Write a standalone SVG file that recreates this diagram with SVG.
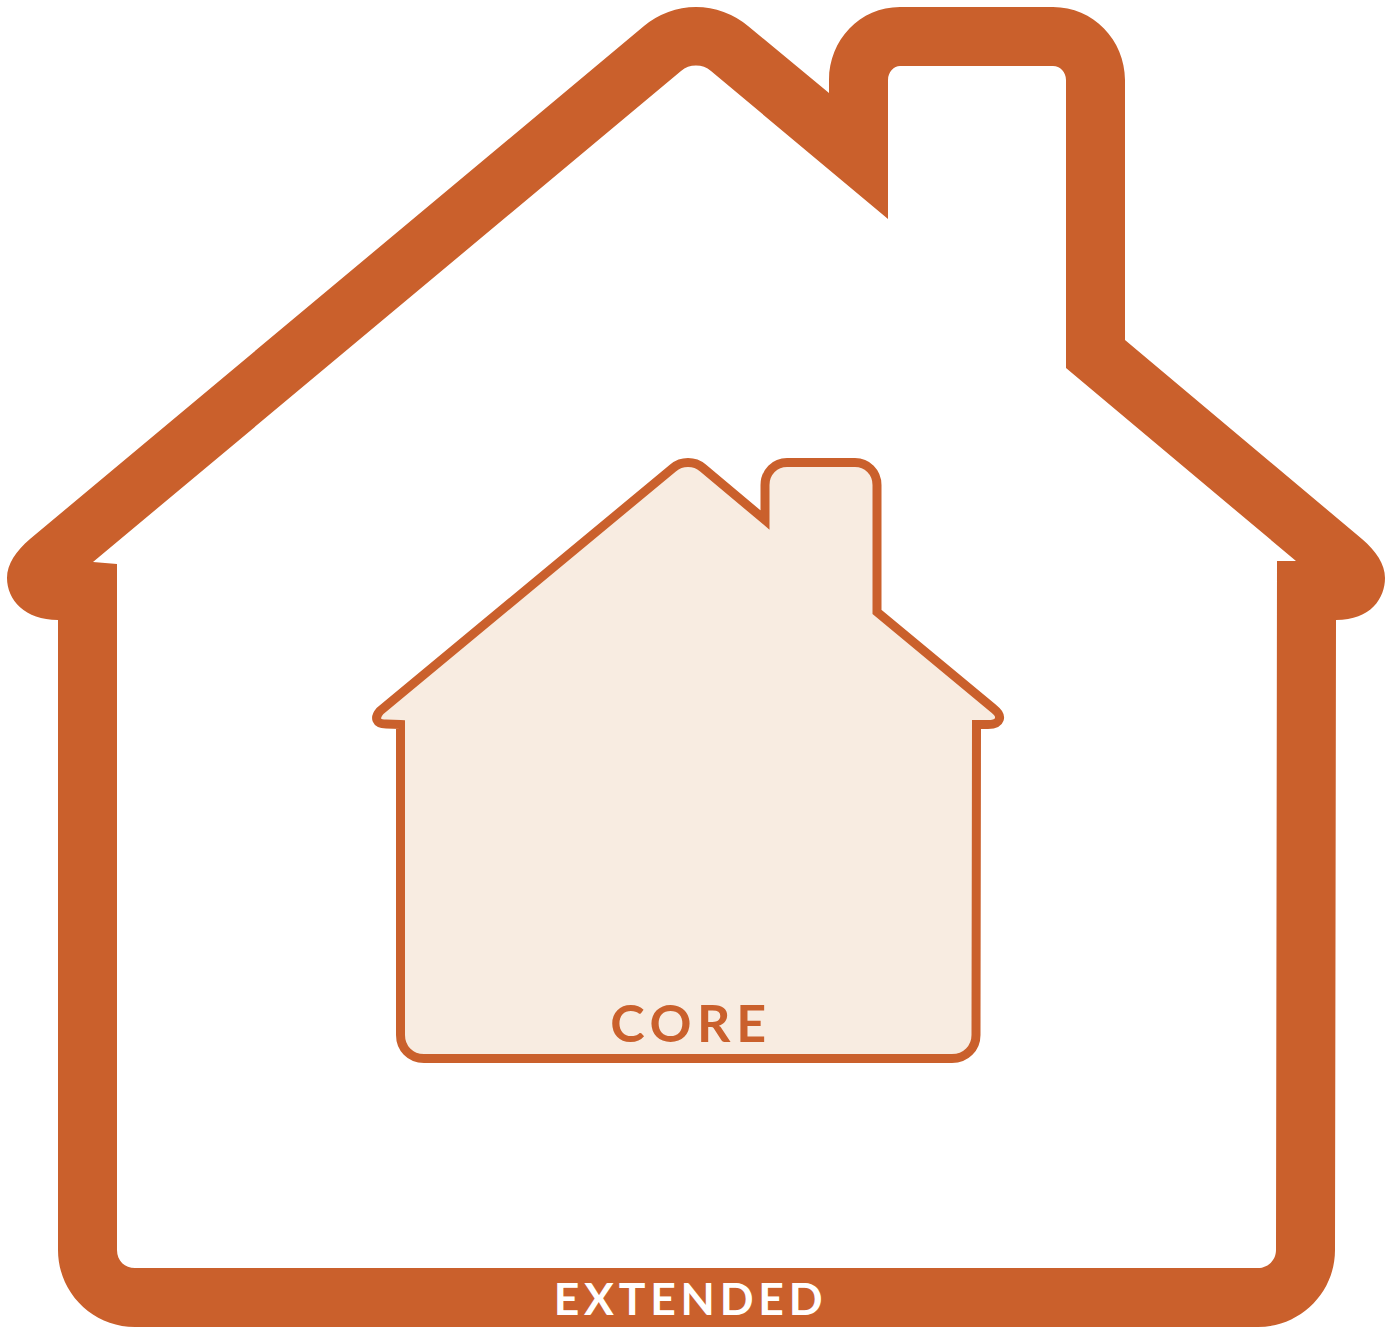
<svg xmlns="http://www.w3.org/2000/svg" width="1395" height="1328" viewBox="0 0 1395 1328">
<style>
.outer{fill:#CA602C;fill-rule:evenodd}
.core{fill:#F8ECE1;stroke:#CA602C;stroke-width:9;stroke-miterlimit:10}
text{font-family:Lato,"Open Sans",sans-serif;font-weight:700;text-anchor:middle}
.l1{font-size:52px;letter-spacing:5.600px;fill:#CA602C}
.l2{font-size:44.500px;letter-spacing:4.800px;fill:#FFFFFF}
</style>
<rect width="1395" height="1328" fill="#FFFFFF"/>
<g id="extended">
<path class="outer" d="M58,620 V1250 C58,1293 93,1327 135,1327 H1258 C1300,1327 1335,1293 1335,1250 L1336,620 C1371,620 1385,598 1385,578 C1385,564 1376,551 1362,539 L1125,340 V80 C1125,40 1093,7 1053,7 H900 C860,7 829,40 829,80 V93 L748,26 A81,81 0 0 0 644,26 L30,539 C16,551 7,564 7,578 C7,600 25,620 58,620 Z M117,564 L93,562 L681,71 A23.500,23.500 0 0 1 711,71 L888,219 V80 C888,72 894,66 900,66 H1053 C1060,66 1066,72 1066,80 V368 L1296,561 H1277 L1276,1250 C1276,1261 1267,1268 1258,1268 H135 C125,1268 117,1261 117,1250 Z"/>
<text class="l2" x="690.500" y="1314.500">EXTENDED</text>
</g>
<g id="core">
<path class="core" d="M400.500,724.500 L386,724 C376,724 374,718 380,711 L673,468 A23.500,23.500 0 0 1 703,468 L765,520 V485 C765,472 775,462.500 787,462.500 H855 C867,462.500 877,472 877,485 V612 L994,709 C1003,716 1001,724.500 988,724.500 H976.500 L976,1035 C976,1048 966,1058.500 952,1058.500 H424 C410,1058.500 400.500,1048 400.500,1035 Z"/>
<text class="l1" x="691" y="1042">CORE</text>
</g>
<g id="connectors"/>
</svg>
